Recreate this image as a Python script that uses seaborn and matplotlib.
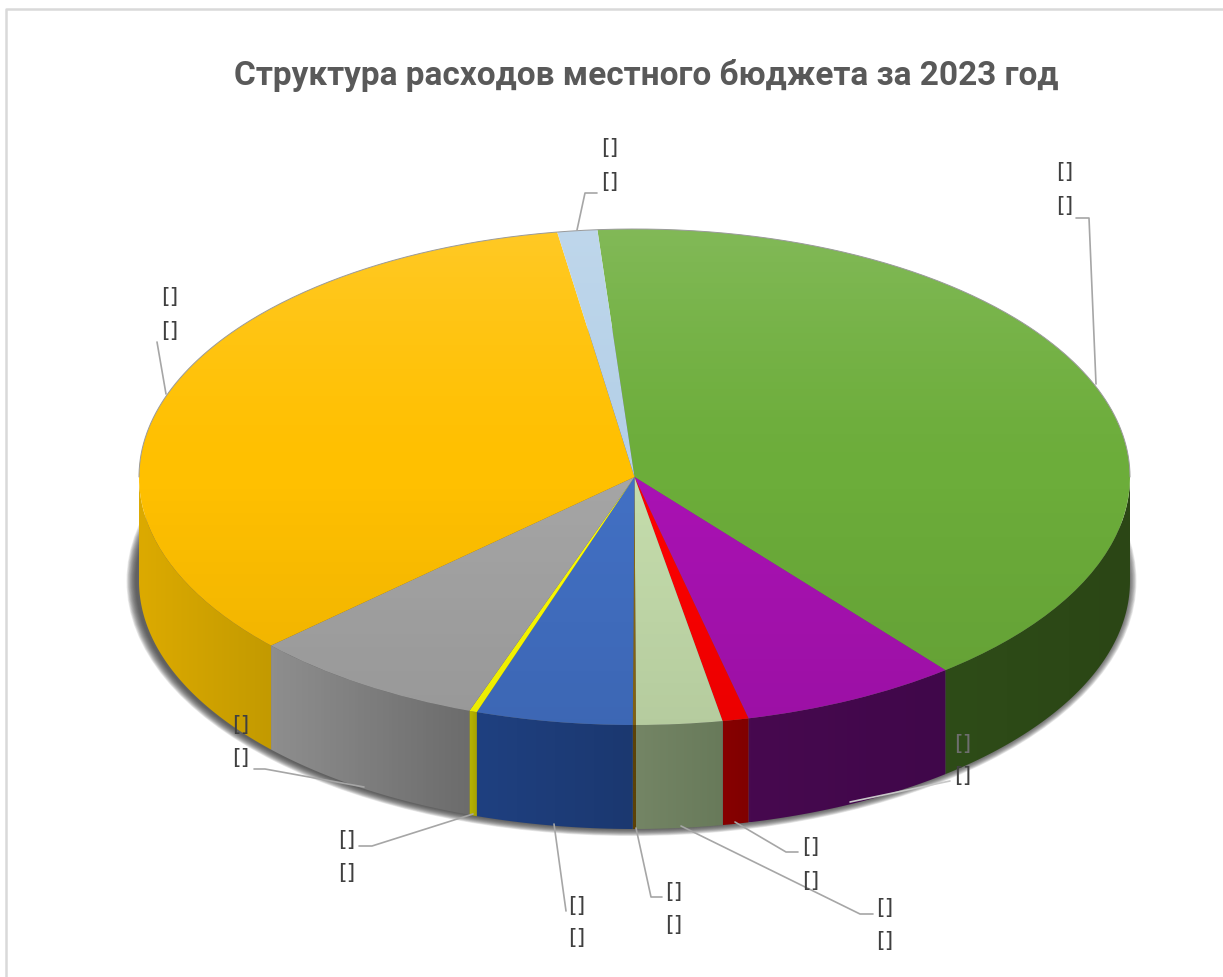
import numpy as np
import seaborn as sns
import matplotlib.pyplot as plt
from matplotlib.patches import Ellipse, Polygon

# share of each slice, clockwise from the top of the green one
slice_names = ["green", "purple", "red", "pale", "brown", "blue", "yellow", "grey", "orange", "sky"]
slice_values = [40.4, 7.1, 0.85, 2.8, 0.1, 5.1, 0.25, 7.7, 34.4, 1.3]
top_colors = ["#6CAD3A", "#A912B3", "#FF0000", "#C5DDAC", "#8B6914", "#4270C4", "#FFFF00", "#A5A5A5", "#FFC000", "#B4D0E8"]
side_left = ["#2E4C18", "#47094F", "#870000", "#748565", "#5C4208", "#1F4080", "#B8B400", "#8E8E8E", "#DCAA00", "#7C90A5"]
side_right = ["#2B4615", "#40074A", "#800000", "#687A5A", "#5C4208", "#1B3870", "#A8A400", "#6C6C6C", "#C39A00", "#7C90A5"]
data_labels = ["[]"] * 10
title = "Структура расходов местного бюджета за 2023 год"

W, H = 1223, 978
CX, CY, RX, RY, DEPTH = 634.5, 478, 495.5, 248, 104
START = 94.3


def xy(px, py):
    return (px - CX) / RX, (CY - py) / RY


sns.set_theme(style="white")
plt.rcParams["font.family"] = ["Roboto", "DejaVu Sans"]

fig = plt.figure(figsize=(W / 100, H / 100), dpi=100)
ax = fig.add_axes([0, 0, 1, 1])

d = DEPTH / RY

# soft shadow under the disc
for i in range(14):
    ax.add_patch(Ellipse((-3 / RX, -d), 2 + (19 - i * 1.4) / RX, 2 + (14 - i * 1.1) / RY,
                         fc="#404040", ec="none", alpha=0.11, zorder=1))

# side walls, only the part facing the viewer
edges = START - np.cumsum([0] + slice_values) / sum(slice_values) * 360
for i in range(len(slice_values)):
    th = np.radians(np.linspace(edges[i], edges[i + 1], 200))
    th = th[np.sin(th) <= 0.001]
    if len(th) < 2:
        continue
    x, y = np.cos(th), np.sin(th)
    pts = np.r_[np.c_[x, y], np.c_[x[::-1], y[::-1] - d]]
    poly = Polygon(pts, fc="none", ec="none", transform=ax.transData)
    ax.add_patch(poly)
    cmap = sns.blend_palette([side_left[i], side_right[i]], as_cmap=True)
    im = ax.imshow(np.linspace(0, 1, 64)[None, :], cmap=cmap, aspect="auto", zorder=2,
                   extent=(x.min(), x.max() + 1e-3, (y - d).min(), y.max()))
    im.set_clip_path(poly)

# top face
ax.pie(slice_values, colors=top_colors, startangle=START, counterclock=False, radius=1,
       wedgeprops=dict(linewidth=0, zorder=3))

# light falloff across the top
rows = np.linspace(1, -1, 256)
shade = np.zeros((256, 1, 4))
shade[..., :3] = (rows > 0)[:, None, None]
shade[..., 3] = np.where(rows > 0, 0.15 * rows ** 1.3, 0.08 * np.abs(rows))[:, None]
rim = Ellipse((0, 0), 2, 2, fc="none", ec="none")
ax.add_patch(rim)
im = ax.imshow(shade, aspect="auto", extent=(-1, 1, -1, 1), zorder=4)
im.set_clip_path(rim)

# thin grey rim on the back half
th = np.radians(np.linspace(0, 180, 300))
ax.plot(np.cos(th), np.sin(th), color="#9a9a9a", lw=0.7, zorder=5)

# leader lines
leaders = [
    [(1076, 219), (1089, 219), (1096, 385)],
    [(950, 782), (850, 803)],
    [(798, 853), (786, 853), (735, 823)],
    [(873, 915), (860, 915), (681, 827)],
    [(662, 898), (651, 898), (636, 829)],
    [(566, 912), (554, 825)],
    [(359, 847), (372, 847), (473, 815)],
    [(254, 770), (265, 770), (364, 788)],
    [(157, 343), (166, 395)],
    [(597, 194), (585, 194), (577, 231)],
]
lead_colors = ["#a6a6a6", "#c8c8c8"] + ["#a6a6a6"] * 8
for pts, c in zip(leaders, lead_colors):
    p = np.array([xy(*q) for q in pts])
    ax.plot(p[:, 0], p[:, 1], color=c, lw=1.2, zorder=6)

# label pairs, same order as the slices
label_pos = [(1065, 172, 206), (963, 744, 776), (811, 847, 881), (885, 908, 941), (674, 892, 925),
             (577, 906, 938), (347, 840, 873), (241, 725, 758), (170, 297, 331), (610, 148, 182)]
for i, (lx, y1, y2) in enumerate(label_pos):
    for ly in (y1, y2):
        c = "#6e6e6e" if (i, ly) == (1, 744) else "#404040"
        ax.text(*xy(lx, ly), data_labels[i], fontsize=16, color=c, ha="center", va="center", zorder=7,
                family="DejaVu Sans")

ax.text(*xy(646, 75), title, fontsize=24, fontweight="bold", color="#595959", ha="center", va="center", zorder=7)

# chart frame
ax.plot(*zip(xy(6, H), xy(6, 10), xy(W, 10)), color="#d9d9d9", lw=1.8, zorder=1)

ax.set_xlim(xy(0, 0)[0], xy(W, 0)[0])
ax.set_ylim(xy(0, H)[1], xy(0, 0)[1])
ax.set_aspect("auto")
ax.axis("off")

fig.savefig("out.png", dpi=100)
